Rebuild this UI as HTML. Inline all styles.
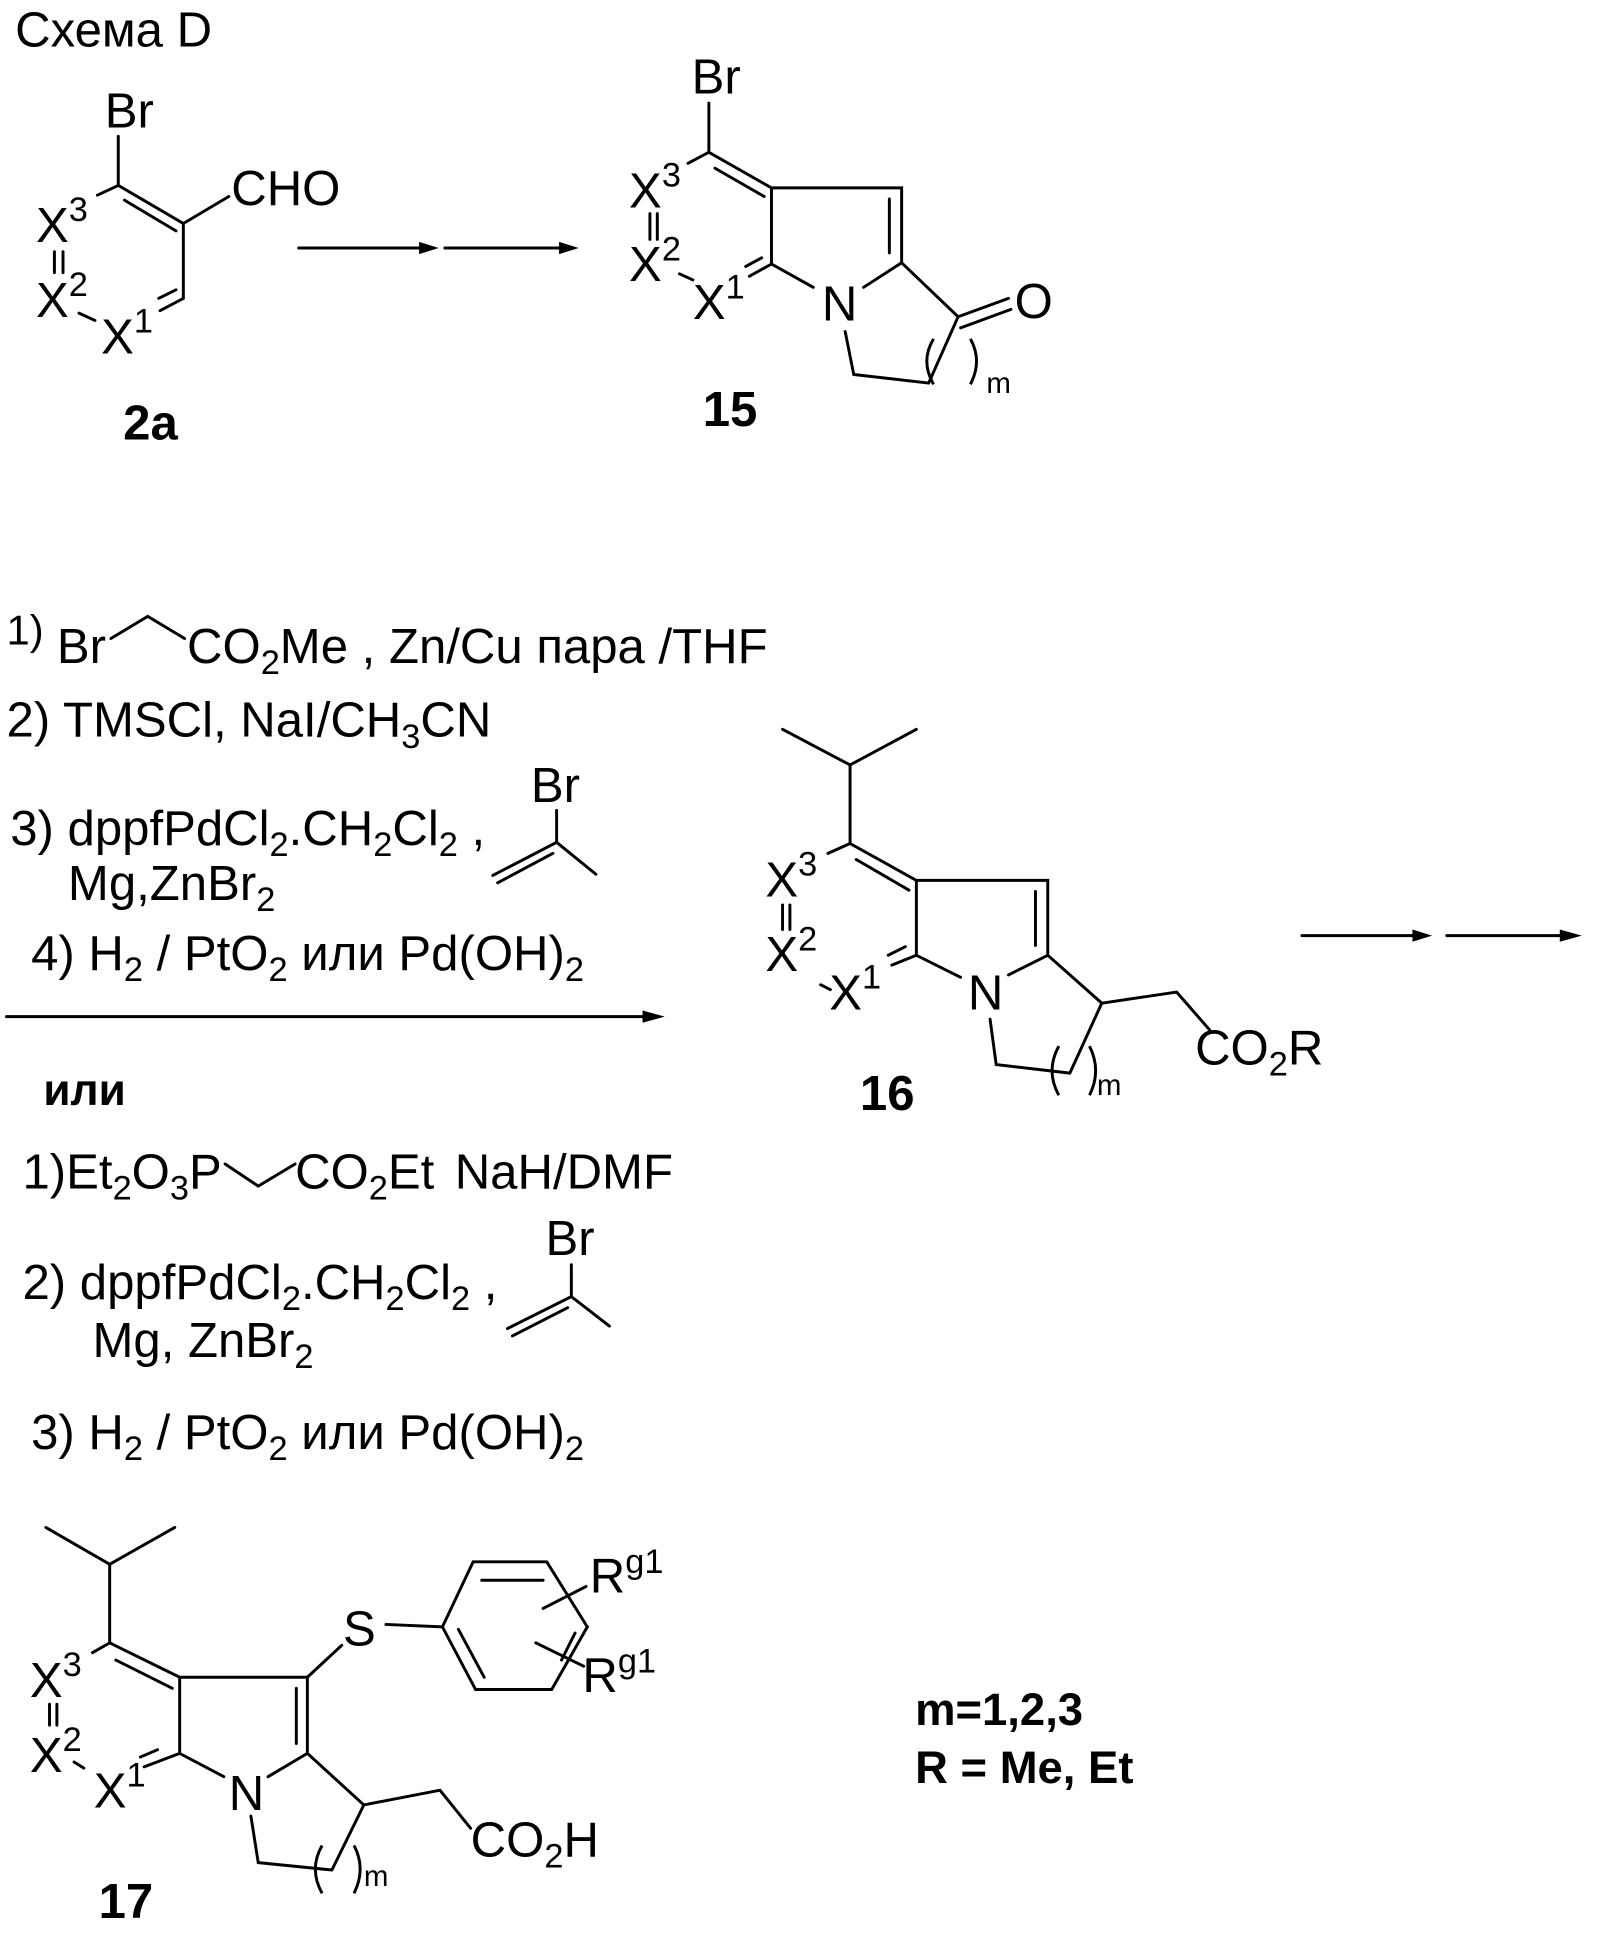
<!DOCTYPE html>
<html><head><meta charset="utf-8"><style>
html,body{margin:0;padding:0;background:#fff}
svg{display:block}
text{font-family:"Liberation Sans",sans-serif;fill:#000}
</style></head><body>
<svg width="1597" height="1940" viewBox="0 0 1300 1580" xmlns="http://www.w3.org/2000/svg">
<g stroke="#000" stroke-width="2.4" fill="none" stroke-linecap="round">
<!-- 2a -->
<path d="M96 111 L96 151 L149 182 L149 243 L130 253"/>
<path d="M101 163 L143 188"/>
<path d="M149 182 L186 160"/>
<path d="M79 159 L96 151"/>
<path d="M129 243 L143 236"/>
<path d="M64 255 L77 261"/>
<path d="M44 205 L44 222 M51 205 L51 222"/>
<!-- arrows top -->
<path d="M243 202 L345 202 M362 202 L465 202"/>
<!-- 15 -->
<path d="M577 84 L577 124 L628 153 L734 153 L734 214 L780 258 L756 312 M628 153 L628 215 L662 234 M703 234 L734 214 M688 270 L695 305 L756 312"/>
<path d="M582 137 L622 160 M724 162 L724 206"/>
<path d="M780 258 L821 243 M782 267 L823 252"/>
<path d="M610 225 L628 215 M607 217 L620 210"/>
<path d="M560 133 L577 124"/>
<path d="M553 223 L564 228"/>
<path d="M529 174 L529 195 M535 174 L535 195"/>
<!-- reagent arrow -->
<path d="M5 828 L535 828"/>
<!-- vinyl bromides -->
<path d="M453 660 L453 686 L401 713 M453 686 L485 712 M450 695 L405 719"/>
<path d="M465 1030 L465 1056 L413 1082 M465 1056 L496 1080 M462 1065 L417 1088"/>
<!-- Br CH2 in line 1 -->
<path d="M90 520 L120 502 L150 520"/>
<!-- Et2O3P CH2 -->
<path d="M183 948 L210 966 L240 948"/>
<!-- 16 -->
<path d="M637 594 L692 623 L746 594 M692 623 L692 687 L746 717 L853 717 L853 778 L897 817 L958 808 L985 839 M746 717 L746 778 L782 796 M821 794 L853 778 M897 817 L871 874 M806 830 L811 867 L871 874"/>
<path d="M697 700 L740 725 M843 726 L843 770"/>
<path d="M726 786 L746 778 M723 778 L737 771"/>
<path d="M674 695 L692 687"/>
<path d="M668 802 L676 806"/>
<path d="M637 737 L637 757 M643 737 L643 757"/>
<path d="M1060 762 L1160 762 M1178 762 L1280 762"/>
<!-- 17 -->
<path d="M37 1244 L89 1274 L142 1244 M89 1274 L89 1338 L146 1366 L250 1366 L250 1428 L296 1470 L358 1458 L383 1489 M146 1366 L146 1428 L182 1447 M218 1447 L250 1428 M296 1470 L270 1523 M204 1479 L210 1517 L270 1523"/>
<path d="M94 1352 L140 1375 M241 1375 L241 1420"/>
<path d="M117 1439 L146 1428 M114 1431 L128 1425"/>
<path d="M75 1346 L89 1338"/>
<path d="M60 1435 L68 1440"/>
<path d="M40 1388 L40 1405 M46 1388 L46 1405"/>
<path d="M250 1366 L278 1340"/>
<path d="M314 1323 L360 1325"/>
<path d="M360 1325 L385 1272 L445 1272 L478 1325 L449 1376 L387 1376 Z"/>
<path d="M392 1287 L442 1287 M373 1327 L394 1366 M468 1330 L457 1352"/>
<path d="M442 1310 L477 1292 M436 1338 L475 1357"/>
</g>
<g stroke="#000" stroke-width="2.4" fill="none">
<path d="M760 276 Q749 294 760 313 M790 276 Q800 294 790 313"/>
<path d="M862 852 Q851 872 862 892 M887 852 Q897 872 887 892"/>
<path d="M262 1503 Q251 1522 262 1542 M288 1503 Q298 1522 288 1542"/>
</g>
<polygon points="341,197 357,202 341,207" fill="#000"/>
<polygon points="455,197 471,202 455,207" fill="#000"/>
<polygon points="523,823 541,828 523,833" fill="#000"/>
<polygon points="1150,757 1166,762 1150,767" fill="#000"/>
<polygon points="1270,757 1288,762 1270,767" fill="#000"/>
<g font-size="40">
<text x="12" y="38">Схема D</text>
<text x="85" y="104">Br</text>
<text x="188" y="167">CHO</text>
<text x="29" y="197">X<tspan font-size="28" dy="-17">3</tspan></text>
<text x="29" y="258">X<tspan font-size="28" dy="-17">2</tspan></text>
<text x="82" y="288">X<tspan font-size="28" dy="-17">1</tspan></text>
<text x="100" y="358" font-weight="bold">2a</text>
<text x="563" y="76">Br</text>
<text x="512" y="169">X<tspan font-size="28" dy="-17">3</tspan></text>
<text x="512" y="229">X<tspan font-size="28" dy="-17">2</tspan></text>
<text x="564" y="260">X<tspan font-size="28" dy="-17">1</tspan></text>
<text x="669" y="261">N</text>
<text x="826" y="259">O</text>
<text x="803" y="320" font-size="24">m</text>
<text x="572" y="347" font-weight="bold">15</text>
<text x="5" y="525" font-size="34">1)</text>
<text x="46" y="540">Br</text>
<text x="152" y="540">CO<tspan font-size="28" dy="9">2</tspan><tspan dy="-9">Me ,  Zn/Cu пара /THF</tspan></text>
<text x="5" y="600">2) TMSCl, NaI/CH<tspan font-size="28" dy="9">3</tspan><tspan dy="-9">CN</tspan></text>
<text x="432" y="653">Br</text>
<text x="8" y="688">3) dppfPdCl<tspan font-size="28" dy="9">2</tspan><tspan dy="-9">.CH</tspan><tspan font-size="28" dy="9">2</tspan><tspan dy="-9">Cl</tspan><tspan font-size="28" dy="9">2</tspan><tspan dy="-9"> ,</tspan></text>
<text x="55" y="733">Mg,ZnBr<tspan font-size="28" dy="9">2</tspan></text>
<text x="25" y="790">4) H<tspan font-size="28" dy="9">2</tspan><tspan dy="-9"> / PtO</tspan><tspan font-size="28" dy="9">2</tspan><tspan dy="-9"> или Pd(OH)</tspan><tspan font-size="28" dy="9">2</tspan></text>
<text x="35" y="900" font-weight="bold" font-size="36">или</text>
<text x="18" y="968">1)Et<tspan font-size="28" dy="9">2</tspan><tspan dy="-9">O</tspan><tspan font-size="28" dy="9">3</tspan><tspan dy="-9">P</tspan></text>
<text x="240" y="968">CO<tspan font-size="28" dy="9">2</tspan><tspan dy="-9">Et</tspan></text>
<text x="370" y="968">NaH/DMF</text>
<text x="444" y="1022">Br</text>
<text x="18" y="1058">2) dppfPdCl<tspan font-size="28" dy="9">2</tspan><tspan dy="-9">.CH</tspan><tspan font-size="28" dy="9">2</tspan><tspan dy="-9">Cl</tspan><tspan font-size="28" dy="9">2</tspan><tspan dy="-9"> ,</tspan></text>
<text x="75" y="1105">Mg, ZnBr<tspan font-size="28" dy="9">2</tspan></text>
<text x="25" y="1180">3)  H<tspan font-size="28" dy="9">2</tspan><tspan dy="-9"> / PtO</tspan><tspan font-size="28" dy="9">2</tspan><tspan dy="-9"> или Pd(OH)</tspan><tspan font-size="28" dy="9">2</tspan></text>
<text x="623" y="730">X<tspan font-size="28" dy="-17">3</tspan></text>
<text x="623" y="791">X<tspan font-size="28" dy="-17">2</tspan></text>
<text x="675" y="822">X<tspan font-size="28" dy="-17">1</tspan></text>
<text x="788" y="822">N</text>
<text x="973" y="867">CO<tspan font-size="28" dy="9">2</tspan><tspan dy="-9">R</tspan></text>
<text x="893" y="892" font-size="24">m</text>
<text x="700" y="904" font-weight="bold">16</text>
<text x="24" y="1382">X<tspan font-size="28" dy="-17">3</tspan></text>
<text x="24" y="1443">X<tspan font-size="28" dy="-17">2</tspan></text>
<text x="76" y="1472">X<tspan font-size="28" dy="-17">1</tspan></text>
<text x="186" y="1474">N</text>
<text x="279" y="1340">S</text>
<text x="480" y="1297">R<tspan font-size="28" dy="-16">g1</tspan></text>
<text x="474" y="1378">R<tspan font-size="28" dy="-16">g1</tspan></text>
<text x="383" y="1512">CO<tspan font-size="28" dy="9">2</tspan><tspan dy="-9">H</tspan></text>
<text x="296" y="1536" font-size="24">m</text>
<text x="80" y="1562" font-weight="bold">17</text>
<text x="745" y="1405" font-weight="bold" font-size="37">m=1,2,3</text>
<text x="745" y="1452" font-weight="bold" font-size="37">R = Me, Et</text>
</g>
</svg>
</body></html>
